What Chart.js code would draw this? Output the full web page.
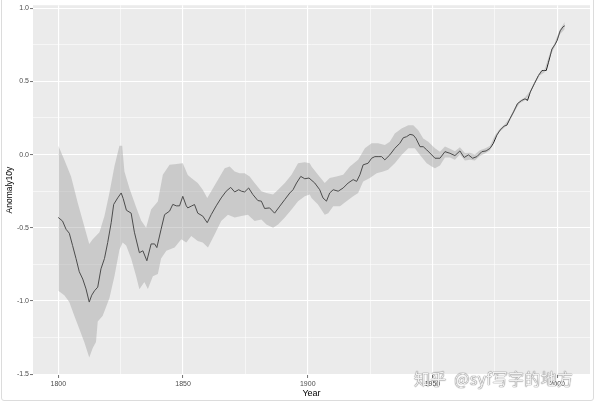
<!DOCTYPE html>
<html>
<head>
<meta charset="utf-8">
<script src="https://cdn.jsdelivr.net/npm/chart.js@4.4.1/dist/chart.umd.min.js"></script>
<style>
  html, body { margin: 0; padding: 0; background: #fff; }
  #wrap { position: relative; width: 600px; height: 406px; overflow: hidden; }
  #frame { position: absolute; left: 1px; top: -3px; width: 593px; height: 404px; border: 1px solid #dcdcdc; border-radius: 3px; box-sizing: border-box; }
  canvas { position: absolute; left: 0; top: 0; }
  #wm { position: absolute; left: 414px; top: 366px; font-family: "Noto Sans CJK SC", sans-serif; font-size: 16px; color: rgba(255,255,255,0.92); text-shadow: 0 0 1px rgba(60,60,60,0.9), 0 0 1px rgba(60,60,60,0.6); white-space: nowrap; letter-spacing: 0.3px; }
</style>
</head>
<body>
<div id="wrap">
  <div id="frame"></div>
  <canvas id="c" width="600" height="406"></canvas>
  <div id="wm">知乎&nbsp;&nbsp;@syf写字的地方</div>
</div>
<script>
// ---- data ----
const lineYears = [
  1800,1801.7,1803.1,1804.4,1805.7,1807.1,1808.4,1809.8,1811.1,1812.4,
  1813.4,1814.5,1815.8,1817.1,1818.5,1819.8,1821.2,1822.2,1823.8,1825.2,
  1826.0,1827.3,1829.2,1830.5,1832.5,1833.9,1835.5,1837.2,1838.6,1839.5,
  1841.2,1842.6,1844.6,1845.9,1847.3,1848.6,1849.9,1851.3,1851.9,1853.3,
  1854.6,1855.9,1857.9,1859.7,1861.3,1863.3,1865.3,1867.3,1869.1,1870.7,
  1872.3,1873.4,1874.7,1876.3,1878.0,1880.0,1881.4,1882.7,1884.7,1886.7,
  1888.8,1890.8,1892.8,1894.1,1895.5,1897.2,1898.8,1900.5,1902.8,1904.8,
  1906.1,1907.5,1908.8,1910.2,1912.2,1914.2,1916.2,1918.2,1919.6,1920.9,
  1922.2,1924.2,1925.6,1926.9,1928.2,1929.6,1930.9,1932.9,1934.9,1936.9,
  1938.3,1939.6,1941.0,1942.3,1943.4,1945.0,1946.3,1947.7,1949.7,1951.0,
  1953.0,1955.0,1957.0,1959.0,1961.0,1962.7,1964.4,1966.1,1967.8,1969.8,
  1971.5,1973.1,1974.4,1975.8,1977.1,1978.7,1979.8,1981.1,1982.5,1984.1,
  1985.8,1987.1,1988.1,1989.2,1990.8,1992.5,1993.9,1995.6,1996.5,1997.9,
  1999.2,1999.9,2001.2,2002.3,2003.0
];
const lineValues = [
  -0.43,-0.454,-0.51,-0.537,-0.62,-0.71,-0.80,-0.85,-0.917,-1.007,
  -0.96,-0.93,-0.905,-0.78,-0.71,-0.60,-0.465,-0.34,-0.296,-0.262,
  -0.30,-0.38,-0.40,-0.53,-0.67,-0.657,-0.725,-0.61,-0.61,-0.635,
  -0.51,-0.41,-0.386,-0.34,-0.35,-0.35,-0.285,-0.35,-0.364,-0.352,
  -0.341,-0.40,-0.42,-0.465,-0.41,-0.35,-0.296,-0.25,-0.224,-0.255,
  -0.24,-0.25,-0.255,-0.228,-0.273,-0.314,-0.318,-0.368,-0.364,-0.40,
  -0.352,-0.307,-0.262,-0.24,-0.194,-0.149,-0.165,-0.16,-0.194,-0.24,
  -0.296,-0.318,-0.262,-0.24,-0.25,-0.228,-0.194,-0.171,-0.183,-0.138,
  -0.07,-0.059,-0.025,-0.014,-0.014,-0.014,-0.036,-0.002,0.043,0.077,
  0.115,0.122,0.138,0.133,0.11,0.054,0.054,0.032,-0.002,-0.025,
  -0.025,0.02,0.009,-0.007,0.025,-0.02,-0.002,-0.025,-0.014,0.02,
  0.025,0.043,0.077,0.133,0.167,0.194,0.201,0.246,0.291,0.348,
  0.37,0.381,0.37,0.427,0.483,0.54,0.574,0.574,0.63,0.72,
  0.754,0.777,0.845,0.872,0.879
];
const upperYears = [
  1800,1802.4,1805.1,1807.8,1810.4,1812.4,1813.8,1816.5,1818.5,1820.5,
  1822.5,1824.5,1825.6,1826.5,1828.5,1831.2,1833.2,1835.2,1837.2,1839.9,
  1841.9,1844.6,1846.6,1849.9,1851.9,1853.3,1855.9,1857.9,1859.7,1861.3,
  1864.0,1866.7,1868.7,1870.7,1872.7,1874.7,1876.7,1878.7,1881.4,1883.4,
  1886.1,1888.1,1890.8,1893.5,1896.1,1898.8,1900.8,1901.5,1904.1,1906.8,
  1908.8,1911.5,1914.2,1916.9,1920.2,1922.9,1925.6,1928.2,1930.9,1932.9,
  1934.9,1937.6,1940.3,1942.3,1944.3,1946.3,1948.3,1951.0,1953,1955,
  1957,1959,1961,1963,1965,1967,1969,1971,1973,1975,
  1977,1979,1981,1983,1985,1987,1989,1991,1993,1995,
  1997,1999,2001,2003
];
const upperValues = [
  0.06,-0.036,-0.149,-0.33,-0.49,-0.61,-0.578,-0.53,-0.42,-0.26,
  -0.08,0.06,0.06,-0.115,-0.23,-0.36,-0.45,-0.50,-0.375,-0.32,
  -0.138,-0.07,-0.066,-0.059,-0.14,-0.16,-0.194,-0.24,-0.296,-0.25,
  -0.171,-0.093,-0.081,-0.115,-0.127,-0.127,-0.149,-0.194,-0.25,-0.262,
  -0.273,-0.24,-0.194,-0.138,-0.059,-0.052,-0.059,-0.081,-0.138,-0.194,
  -0.16,-0.149,-0.138,-0.081,-0.036,0.043,0.077,0.077,0.066,0.088,
  0.144,0.178,0.201,0.201,0.167,0.11,0.088,0.043,0.02,0.055,
  0.04,0.022,0.05,0.01,0.012,0.0,0.03,0.042,0.058,0.13,
  0.177,0.207,0.253,0.32,0.37,0.39,0.43,0.50,0.56,0.585,
  0.69,0.763,0.85,0.905
];
const lowerYears = [
  1800,1802.4,1804.4,1806.4,1808.4,1810.4,1812.4,1813.8,1815.1,1815.8,
  1817.8,1820.5,1822.5,1824.5,1825.8,1827.2,1829.2,1831.2,1832.5,1834.5,
  1835.9,1837.9,1839.9,1841.2,1843.3,1846.6,1849.3,1851.3,1853.3,1855.9,
  1857.9,1860.0,1862.7,1865.3,1868.0,1870.7,1873.4,1876.0,1878.7,1881.4,
  1883.4,1886.1,1888.1,1890.8,1893.5,1896.1,1898.8,1900.8,1901.5,1904.1,
  1906.8,1908.2,1910.2,1912.9,1915.5,1918.2,1920.2,1922.2,1924.9,1927.6,
  1930.2,1932.2,1934.9,1937.6,1940.3,1942.9,1945.0,1947.7,1949.7,1951.0,
  1953,1955,1957,1959,1961,1963,1965,1967,1969,1971,
  1973,1975,1977,1979,1981,1983,1985,1987,1989,1991,
  1993,1995,1997,1999,2001,2003
];
const lowerValues = [
  -0.93,-0.96,-1.007,-1.10,-1.19,-1.28,-1.385,-1.32,-1.28,-1.14,
  -1.10,-0.98,-0.83,-0.65,-0.60,-0.62,-0.71,-0.83,-0.92,-0.87,
  -0.917,-0.83,-0.815,-0.71,-0.657,-0.635,-0.578,-0.60,-0.556,-0.59,
  -0.60,-0.635,-0.544,-0.454,-0.41,-0.43,-0.42,-0.41,-0.454,-0.443,
  -0.477,-0.50,-0.477,-0.43,-0.375,-0.318,-0.285,-0.273,-0.296,-0.341,
  -0.41,-0.40,-0.352,-0.352,-0.318,-0.285,-0.262,-0.183,-0.16,-0.127,
  -0.115,-0.104,-0.059,-0.002,0.043,0.043,-0.002,-0.059,-0.081,-0.093,
  -0.075,-0.02,-0.02,-0.035,0.0,-0.04,-0.035,-0.04,-0.01,0.008,
  0.028,0.108,0.157,0.187,0.233,0.30,0.35,0.37,0.41,0.48,
  0.54,0.563,0.665,0.737,0.82,0.855
];
const xMajorTicks = [1800, 1850, 1900, 1950, 2000];
const xMinorTicks = [1825, 1875, 1925, 1975];
const xTickLabels = ['1800', '1850', '1900', '1950', '2000'];
const yMajorTicks = [-1.5, -1.0, -0.5, 0.0, 0.5, 1.0];
const yMinorTicks = [-1.25, -0.75, -0.25, 0.25, 0.75];
const yTickLabels = ['-1.5', '-1.0', '-0.5', '0.0', '0.5', '1.0'];

// ---- chart ----
const toPts = (xs, ys) => xs.map((x, i) => ({ x: x, y: ys[i] }));
const near = (a, b) => Math.abs(a - b) < 1e-6;
const isMajor = (arr, v) => arr.some(m => near(m, v));
const FONT = '"Liberation Sans", Arial, sans-serif';

const panelBg = {
  id: 'panelBg',
  beforeDraw(chart) {
    const { ctx, chartArea: a } = chart;
    ctx.save();
    ctx.fillStyle = '#EBEBEB';
    ctx.fillRect(a.left, a.top, a.right - a.left, a.bottom - a.top);
    ctx.restore();
  }
};

function axisGrid(majors) {
  return {
    color: '#FFFFFF',
    lineWidth: c => (c.tick && isMajor(majors, c.tick.value)) ? 1.1 : 0.55,
    tickColor: c => (c.tick && isMajor(majors, c.tick.value)) ? '#4d4d4d' : 'rgba(0,0,0,0)',
    tickLength: 3,
    tickWidth: 0.8,
    drawOnChartArea: true,
    drawTicks: true
  };
}

new Chart(document.getElementById('c'), {
  type: 'line',
  data: {
    datasets: [
      {
        label: 'upper',
        data: toPts(upperYears, upperValues),
        borderColor: 'rgba(0,0,0,0)',
        borderWidth: 0,
        pointRadius: 0,
        backgroundColor: 'rgba(153,153,153,0.4)',
        fill: '+1',
        tension: 0
      },
      {
        label: 'lower',
        data: toPts(lowerYears, lowerValues),
        borderColor: 'rgba(0,0,0,0)',
        borderWidth: 0,
        pointRadius: 0,
        fill: false,
        tension: 0
      },
      {
        label: 'Anomaly10y',
        data: toPts(lineYears, lineValues),
        borderColor: '#1a1a1a',
        borderWidth: 1,
        pointRadius: 0,
        fill: false,
        tension: 0
      }
    ]
  },
  options: {
    responsive: false,
    animation: false,
    events: [],
    layout: { padding: { left: 0, right: 10, top: 2, bottom: 0 } },
    plugins: { legend: { display: false }, tooltip: { enabled: false } },
    scales: {
      x: {
        type: 'linear',
        min: 1789.85,
        max: 2013.15,
        afterBuildTicks: s => { s.ticks = xMajorTicks.concat(xMinorTicks).sort((a, b) => a - b).map(v => ({ value: v })); },
        afterFit: s => { s.height = 31; },
        ticks: {
          autoSkip: false,
          maxRotation: 0,
          padding: 2,
          color: '#4D4D4D',
          font: { family: FONT, size: 7 },
          callback: v => { const i = xMajorTicks.findIndex(m => near(m, v)); return i >= 0 ? xTickLabels[i] : ''; }
        },
        grid: axisGrid(xMajorTicks),
        border: { display: false },
        title: {
          display: true,
          text: 'Year',
          color: '#000',
          font: { family: FONT, size: 9 },
          padding: { top: 0, bottom: 7.5 }
        }
      },
      y: {
        type: 'linear',
        min: -1.505,
        max: 1.02,
        afterBuildTicks: s => { s.ticks = yMajorTicks.concat(yMinorTicks).sort((a, b) => a - b).map(v => ({ value: v })); },
        afterFit: s => { s.width = 33; },
        ticks: {
          autoSkip: false,
          padding: 1,
          color: '#4D4D4D',
          font: { family: FONT, size: 7 },
          callback: v => { const i = yMajorTicks.findIndex(m => near(m, v)); return i >= 0 ? yTickLabels[i] : ''; }
        },
        grid: axisGrid(yMajorTicks),
        border: { display: false },
        title: {
          display: true,
          text: 'Anomaly10y',
          color: '#000',
          font: { family: FONT, size: 8.5 },
          padding: { top: 5, bottom: 0 }
        }
      }
    }
  },
  plugins: [panelBg]
});
</script>
</body>
</html>
